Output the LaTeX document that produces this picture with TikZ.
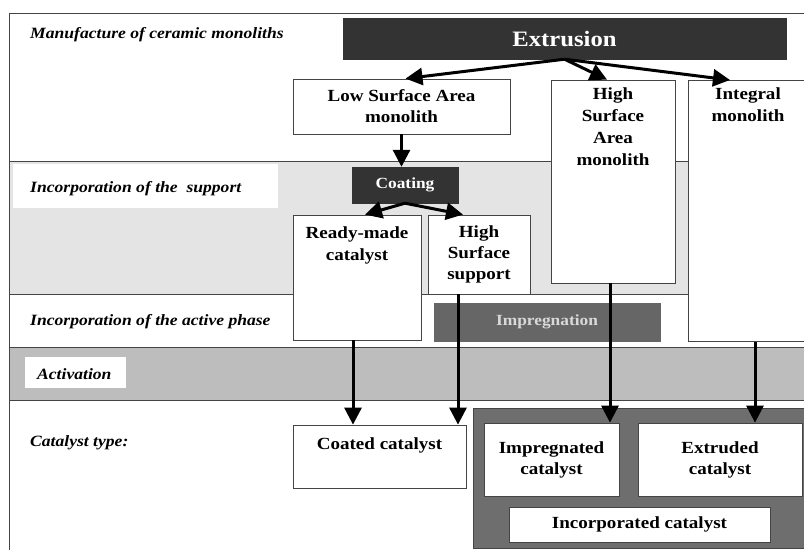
\documentclass[tikz,border=0pt]{standalone}
\usepackage{fontspec}
\setmainfont[FakeStretch=1.12]{Liberation Serif}
\usetikzlibrary{arrows.meta,calc}
\definecolor{darkbox}{HTML}{333333}
\definecolor{impbox}{HTML}{666666}
\definecolor{incbg}{HTML}{6E6E6E}
\definecolor{bandlight}{HTML}{E4E4E4}
\definecolor{banddark}{HTML}{BDBDBD}
\definecolor{edge}{HTML}{444444}
\begin{document}
\begin{tikzpicture}[x=1pt,y=-1pt,
  wbox/.style={draw=edge,line width=0.8pt,fill=white,rectangle,inner sep=0pt,font=\fontsize{17}{21}\selectfont\bfseries,align=center},
  txt/.style={inner sep=0pt,font=\fontsize{17}{22}\selectfont\bfseries,align=center},
  bandlabel/.style={inner sep=0pt,anchor=west,font=\fontsize{15.7}{18}\selectfont\bfseries\itshape},
  arr/.style={line width=3pt,-{Triangle[length=17pt,width=17pt]}},
  bandline/.style={draw=edge,line width=0.8pt}]
\useasboundingbox (0,0) rectangle (804,550);
% bands
\fill[bandlight] (9,161) rectangle (804,294);
\fill[banddark] (9,347) rectangle (804,400);
\draw[bandline] (9,13) -- (804,13);
\draw[bandline] (9,13) -- (9,550);
\draw[bandline] (9,161) -- (804,161);
\draw[bandline] (9,294) -- (804,294);
\draw[bandline] (9,347) -- (804,347);
\draw[bandline] (9,400) -- (804,400);
% white label areas
\fill[white] (13,164) rectangle (278,208);
\fill[white] (25,357) rectangle (126,388);
% band labels
\node[bandlabel] (l1) at (30,35) {Manufacture of ceramic monoliths};
\node[bandlabel] (l2) at (30,189) {Incorporation of the\ \ support};
\node[bandlabel] (l3) at (30,322) {Incorporation of the active phase};
\node[bandlabel] (l4) at (37,374) {Activation};
\node[bandlabel] (l5) at (30,443) {Catalyst type:};
% incorporated region
\node[draw=edge,line width=0.8pt,fill=incbg,minimum width=360,minimum height=140,inner sep=0pt,anchor=north west] (increg) at (473,408) {};
% nodes
\node[draw=darkbox,fill=darkbox,minimum width=443,minimum height=41,inner sep=0pt,text=white,font=\fontsize{22}{24}\selectfont\bfseries] (ext) at (564.5,38.5) {Extrusion};
\node[wbox,minimum width=217,minimum height=55] (lsa) at (401.5,106.5) {Low Surface Area\\monolith};
\node[wbox,minimum width=124,minimum height=203] (hsa) at (613,181.5) {};
\node[txt,anchor=north] (hsat) at (613,87) {High\\Surface\\Area\\monolith};
\node[wbox,minimum width=140,minimum height=261,anchor=north west] (integ) at (688,80) {};
\node[txt,anchor=north] (integt) at (748,87) {Integral\\monolith};
\node[draw=darkbox,fill=darkbox,minimum width=106,minimum height=36,inner sep=0pt,text=white,font=\fontsize{15.5}{18}\selectfont\bfseries] (coat) at (405,185) {Coating};
\node[wbox,minimum width=128,minimum height=125] (rm) at (357,277.5) {};
\node[txt,anchor=north] (rmt) at (357,226) {Ready-made\\catalyst};
\node[wbox,minimum width=102,minimum height=79] (hss) at (479,254.5) {High\\Surface\\support};
\node[draw=impbox,fill=impbox,minimum width=226,minimum height=38,inner sep=0pt,text=white!85!black,font=\fontsize{15.5}{18}\selectfont\bfseries] (imp) at (547,322) {Impregnation};
\node[wbox,minimum width=173,minimum height=63] (coated) at (379.5,456.5) {};
\node[txt] (coatedt) at (379.5,445) {Coated catalyst};
\node[wbox,minimum width=135,minimum height=73] (impcat) at (551.5,459.5) {Impregnated\\catalyst};
\node[wbox,minimum width=164,minimum height=73] (extcat) at (720,459.5) {Extruded\\catalyst};
\node[wbox,minimum width=261,minimum height=35] (inccat) at (639.5,524.5) {Incorporated catalyst};
% arrows
\draw[arr] (ext.south) -- ([xshift=4pt]lsa.north);
\draw[arr] (ext.south) -- ([xshift=-6pt]hsa.north);
\draw[arr] (ext.south) -- ([xshift=42pt]integ.north west);
\draw[arr] (lsa.south) -- (lsa.south |- coat.north);
\draw[arr] (coat.south) -- ([xshift=8pt]rm.north);
\draw[arr] (coat.south) -- ([xshift=-16pt]hss.north);
\draw[arr] ([xshift=-4pt]rm.south) -- ([xshift=-4pt]rm.south |- coated.north);
\draw[arr] ([xshift=-21pt]hss.south) -- ([xshift=-21pt]hss.south |- coated.north);
\draw[arr] ([xshift=-3pt]hsa.south) -- ([xshift=-3pt]hsa.south |- impcat.north);
\draw[arr] ([xshift=67pt]integ.south west) -- ([xshift=67pt]integ.south west |- extcat.north);
\end{tikzpicture}
\end{document}
